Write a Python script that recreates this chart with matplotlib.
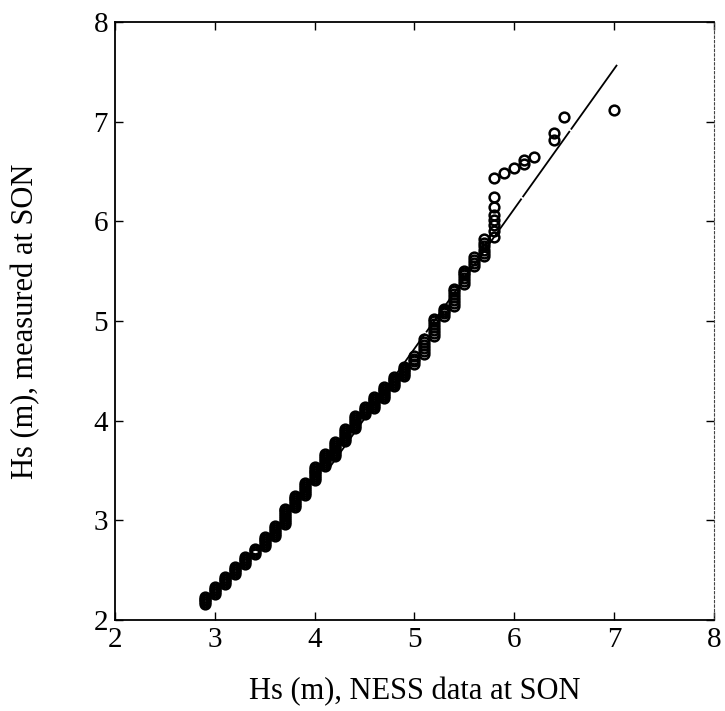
import matplotlib
matplotlib.use("Agg")
import matplotlib.pyplot as plt

# NESS hindcast Hs values (x) and the measured quantiles at each (y)
ness_x = [2.9, 3.0, 3.1, 3.2, 3.3, 3.4, 3.5, 3.6, 3.7, 3.8, 3.9, 4.0, 4.1,
          4.2, 4.3, 4.4, 4.5, 4.6, 4.7, 4.8, 4.9, 5.0, 5.1, 5.2, 5.3, 5.4,
          5.5, 5.6, 5.7, 5.8, 5.9, 6.0, 6.1, 6.2, 6.4, 6.5, 7.0]
son_y = [
    [2.16, 2.18, 2.20, 2.21, 2.23],
    [2.26, 2.28, 2.30, 2.31, 2.33],
    [2.36, 2.38, 2.40, 2.41, 2.43],
    [2.46, 2.48, 2.50, 2.51, 2.53],
    [2.56, 2.58, 2.60, 2.61, 2.63],
    [2.66, 2.68, 2.70, 2.71],
    [2.74, 2.76, 2.78, 2.80, 2.81, 2.83],
    [2.84, 2.86, 2.88, 2.90, 2.92, 2.94],
    [2.96, 2.98, 3.00, 3.02, 3.04, 3.06, 3.08, 3.10, 3.11],
    [3.13, 3.15, 3.17, 3.19, 3.21, 3.22, 3.24],
    [3.25, 3.27, 3.29, 3.31, 3.33, 3.35, 3.37],
    [3.40, 3.42, 3.44, 3.46, 3.48, 3.50, 3.52, 3.54],
    [3.55, 3.57, 3.59, 3.61, 3.63, 3.65, 3.67],
    [3.65, 3.67, 3.69, 3.71, 3.73, 3.75, 3.77, 3.79],
    [3.80, 3.82, 3.84, 3.86, 3.88, 3.90, 3.92],
    [3.93, 3.95, 3.97, 3.99, 4.01, 4.03, 4.05],
    [4.07, 4.09, 4.11, 4.12, 4.14],
    [4.13, 4.15, 4.17, 4.19, 4.21, 4.22, 4.24],
    [4.23, 4.25, 4.27, 4.29, 4.31, 4.32, 4.34],
    [4.35, 4.37, 4.39, 4.41, 4.42, 4.44],
    [4.45, 4.47, 4.49, 4.51, 4.52, 4.54],
    [4.57, 4.60, 4.62, 4.65],
    [4.67, 4.70, 4.73, 4.76, 4.79, 4.82],
    [4.85, 4.88, 4.91, 4.94, 4.97, 5.00, 5.02],
    [5.05, 5.08, 5.10, 5.12],
    [5.15, 5.18, 5.21, 5.24, 5.27, 5.30, 5.32],
    [5.37, 5.40, 5.43, 5.46, 5.48, 5.50],
    [5.55, 5.58, 5.61, 5.64],
    [5.65, 5.68, 5.71, 5.75, 5.78, 5.82],
    [5.84, 5.90, 5.96, 6.01, 6.06, 6.14, 6.24, 6.44],
    [6.49],
    [6.54],
    [6.58, 6.62],
    [6.65],
    [6.82, 6.89],
    [7.05],
    [7.12],
]

# reference line (end points in data units)
ref_x = [4.15, 7.03]
ref_y = [3.53, 7.57]

x_ticks = [2, 3, 4, 5, 6, 7, 8]
y_ticks = [2, 3, 4, 5, 6, 7, 8]
x_label = "Hs (m), NESS data at SON"
y_label = "Hs (m), measured at SON"

plt.rcParams['font.family'] = ['Liberation Serif', 'DejaVu Serif']

fig = plt.figure(figsize=(7.25, 7.11), dpi=100)
ax = fig.add_axes([0.1586, 0.128, 0.826, 0.841])

px, py = [], []
for xv, ys in zip(ness_x, son_y):
    for yv in ys:
        px.append(xv)
        py.append(yv)

ax.plot(ref_x, ref_y, color='black', lw=1.3,
        linestyle=(0, (45, 1.0)), zorder=2)
ax.plot(px, py, linestyle='none', marker='o', markersize=7,
        markerfacecolor='none', markeredgecolor='black',
        markeredgewidth=1.8, zorder=3)

ax.set_xlim(2, 8)
ax.set_ylim(2, 8)
ax.set_xticks(x_ticks)
ax.set_yticks(y_ticks)
ax.tick_params(direction='in', length=6, width=1.0, top=True, right=True,
               labelsize=21, pad=5)
for side in ['left', 'bottom', 'top']:
    ax.spines[side].set_linewidth(1.3)
ax.spines['right'].set_linewidth(0.8)
ax.spines['right'].set_linestyle((0, (2, 2)))
ax.spines['right'].set_color('#444444')

ax.set_xlabel(x_label, fontsize=22, labelpad=17)
ax.set_ylabel(y_label, fontsize=22, labelpad=38)

fig.savefig("out.png", dpi=100)
